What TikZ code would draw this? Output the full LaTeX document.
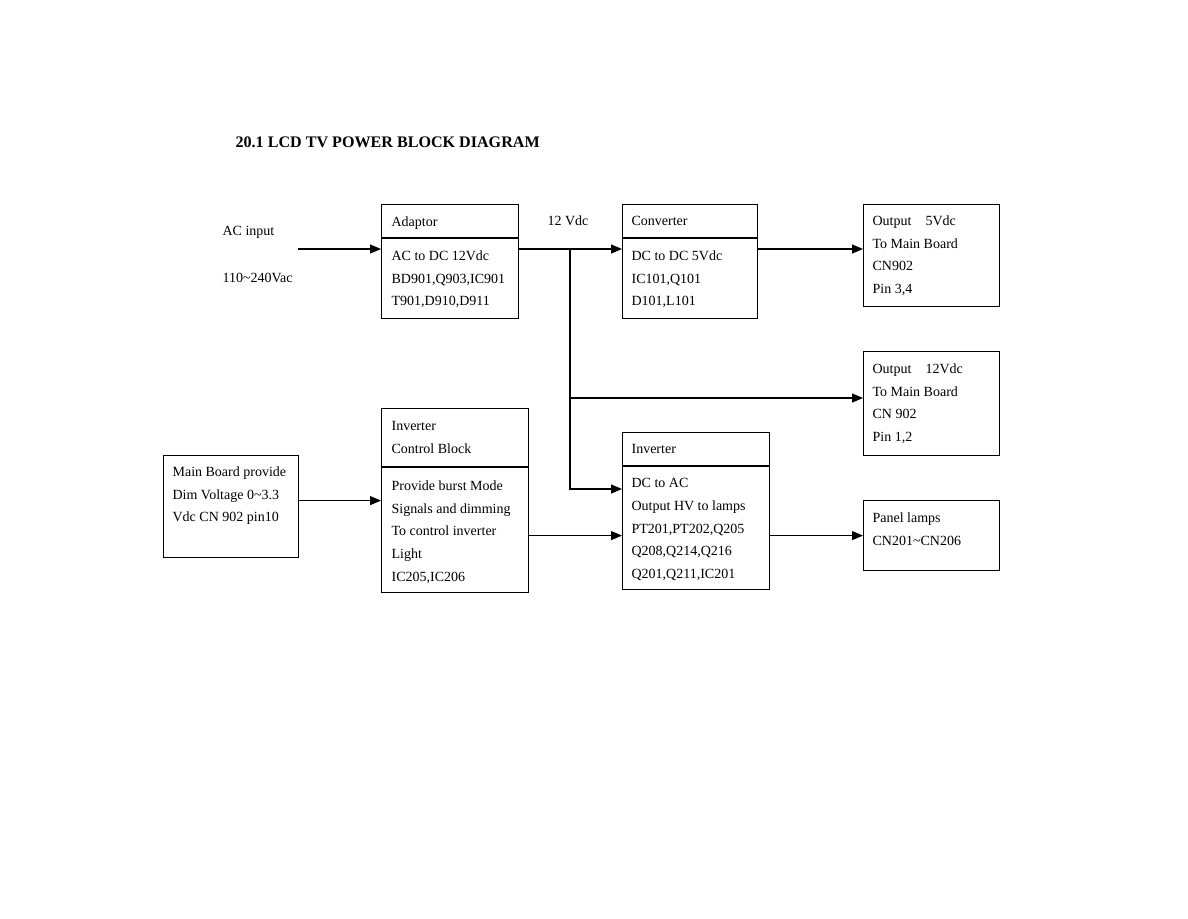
\documentclass[tikz,border=0pt]{standalone}
\usepackage{fontspec}
\setmainfont{Liberation Serif}
\usepackage{tikz}
\usetikzlibrary{positioning, arrows.meta, calc}

\begin{document}
\begin{tikzpicture}[x=1pt, y=-1pt, line width=1.2pt,
    blk/.style={draw, anchor=north west, inner sep=0},
    txt/.style={anchor=north west, inner sep=0, align=left,
      font=\fontsize{14}{22.7}\selectfont},
    arr/.style={-{Triangle[length=11pt, width=9pt]}}]
  \useasboundingbox[fill=white] (0,0) rectangle (1188,918);
  \node[anchor=base west, inner sep=0, font=\fontsize{16.1}{18}\selectfont\bfseries]
    (title) at (235,147) {20.1 LCD TV POWER BLOCK DIAGRAM};

  \node[blk, minimum width=137, minimum height=114] (adaptor) at (381,204) {};
  \node[blk, minimum width=135, minimum height=114] (converter) at (622,204) {};
  \node[blk, minimum width=136, minimum height=102] (out5) at (863,204) {};
  \node[blk, minimum width=136, minimum height=104] (out12) at (863,351) {};
  \node[blk, minimum width=135, minimum height=102] (mainboard) at (163,455) {};
  \node[blk, minimum width=147, minimum height=184] (ctrl) at (381,408) {};
  \node[blk, minimum width=147, minimum height=157] (inverter) at (622,432) {};
  \node[blk, minimum width=136, minimum height=70] (panel) at (863,500) {};

  \draw ([yshift=-34pt]adaptor.north west) -- ([yshift=-34pt]adaptor.north east);
  \draw ([yshift=-34pt]converter.north west) -- ([yshift=-34pt]converter.north east);
  \draw ([yshift=-59pt]ctrl.north west) -- ([yshift=-59pt]ctrl.north east);
  \draw ([yshift=-34pt]inverter.north west) -- ([yshift=-34pt]inverter.north east);

  \node[txt] (acinput) at (222,226) {AC input};
  \node[txt] (acrange) at (222,273) {110\textasciitilde240Vac};
  \node[txt] (dc12) at (547,215) {12 Vdc};

  \node[txt] (adaptorhead) at (391,216) {Adaptor};
  \node[txt] (adaptorbody) at (391,250) {AC to DC 12Vdc\\BD901,Q903,IC901\\T901,D910,D911};
  \node[txt] (converterhead) at (631,216) {Converter};
  \node[txt] (converterbody) at (631,250) {DC to DC 5Vdc\\IC101,Q101\\D101,L101};
  \node[txt] (out5body) at (872,215) {Output\quad 5Vdc\\To Main Board\\CN902\\Pin 3,4};
  \node[txt] (out12body) at (872,363) {Output\quad 12Vdc\\To Main Board\\CN 902\\Pin 1,2};
  \node[txt] (mainbody) at (172,466) {Main Board provide\\Dim Voltage 0\textasciitilde3.3\\Vdc CN 902 pin10};
  \node[txt] (ctrlhead) at (391,421) {Inverter\\Control Block};
  \node[txt] (ctrlbody) at (391,480) {Provide burst Mode\\Signals and dimming\\To control inverter\\Light\\IC205,IC206};
  \node[txt] (inverterhead) at (631,444) {Inverter};
  \node[txt] (inverterbody) at (631,478) {DC to AC\\Output HV to lamps\\PT201,PT202,Q205\\Q208,Q214,Q216\\Q201,Q211,IC201};
  \node[txt] (panelbody) at (872,512) {Panel lamps\\CN201\textasciitilde CN206};

  \coordinate (acin) at (298,249);
  \coordinate (split) at (570,249);
  \coordinate (splitmid) at (570,398);
  \coordinate (splitlow) at (570,489);
  \draw[arr] (acin) -- (acin -| adaptor.west);
  \draw (adaptor.east |- split) -- (split);
  \draw[arr] (split) -- (split -| converter.west);
  \draw[arr] (converter.east |- split) -- (split -| out5.west);
  \draw[arr] (split) -- (splitlow) -- (splitlow -| inverter.west);
  \draw[arr] (splitmid) -- (splitmid -| out12.west);
  \draw[arr] ([yshift=6pt]mainboard.east) coordinate (dim) -- (dim -| ctrl.west);
  \draw[arr] (ctrl.east |- panel.west) -- (inverter.west |- panel.west);
  \draw[arr] (inverter.east |- panel.west) -- (panel.west);
\end{tikzpicture}
\end{document}
